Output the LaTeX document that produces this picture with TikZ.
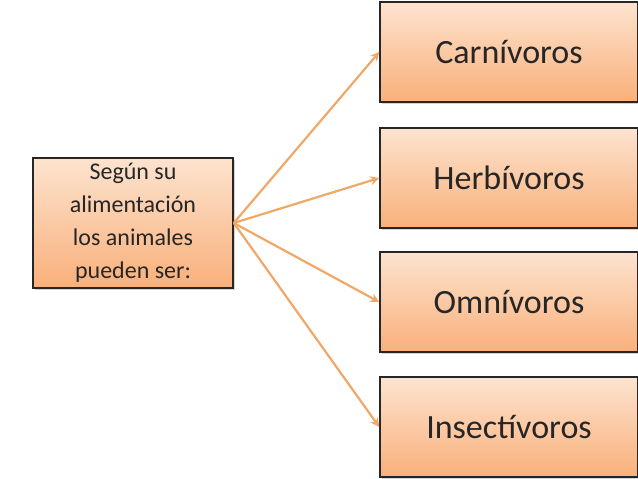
\documentclass[tikz,border=0pt]{standalone}
\usepackage{fontspec}
\setmainfont{Carlito}
\usetikzlibrary{arrows.meta,shadows}
\definecolor{topc}{HTML}{FDE3CF}
\definecolor{botc}{HTML}{F9B07A}
\definecolor{arr}{HTML}{EFA868}
\tikzset{
  box/.style={draw=black!85, line width=1.5pt, top color=topc, bottom color=botc, inner sep=0pt, align=center, text=black!85,
    drop shadow={shadow xshift=2pt, shadow yshift=-2pt, opacity=0.35}},
  conn/.style={draw=arr, line width=2.2pt, -{Stealth[length=9pt,width=9pt]}}
}
\begin{document}
\begin{tikzpicture}[x=1pt,y=-1pt]
\useasboundingbox (0,0) rectangle (638,479);
\node[box, minimum width=200pt, minimum height=130pt, font=\fontsize{24}{33}\selectfont] (src) at (133,223) {Según su\\alimentación\\los animales\\pueden ser:};
\node[box, minimum width=258pt, minimum height=100pt, font=\fontsize{34}{40}\selectfont] (c) at (509,52) {Carnívoros};
\node[box, minimum width=258pt, minimum height=100pt, font=\fontsize{34}{40}\selectfont] (h) at (509,178) {Herbívoros};
\node[box, minimum width=258pt, minimum height=100pt, font=\fontsize{34}{40}\selectfont] (o) at (509,302) {Omnívoros};
\node[box, minimum width=258pt, minimum height=100pt, font=\fontsize{34}{40}\selectfont] (i) at (509,427) {Insectívoros};
\foreach \t in {c,h,o,i} \draw[conn] (src.east) -- (\t.west);
\end{tikzpicture}
\end{document}
